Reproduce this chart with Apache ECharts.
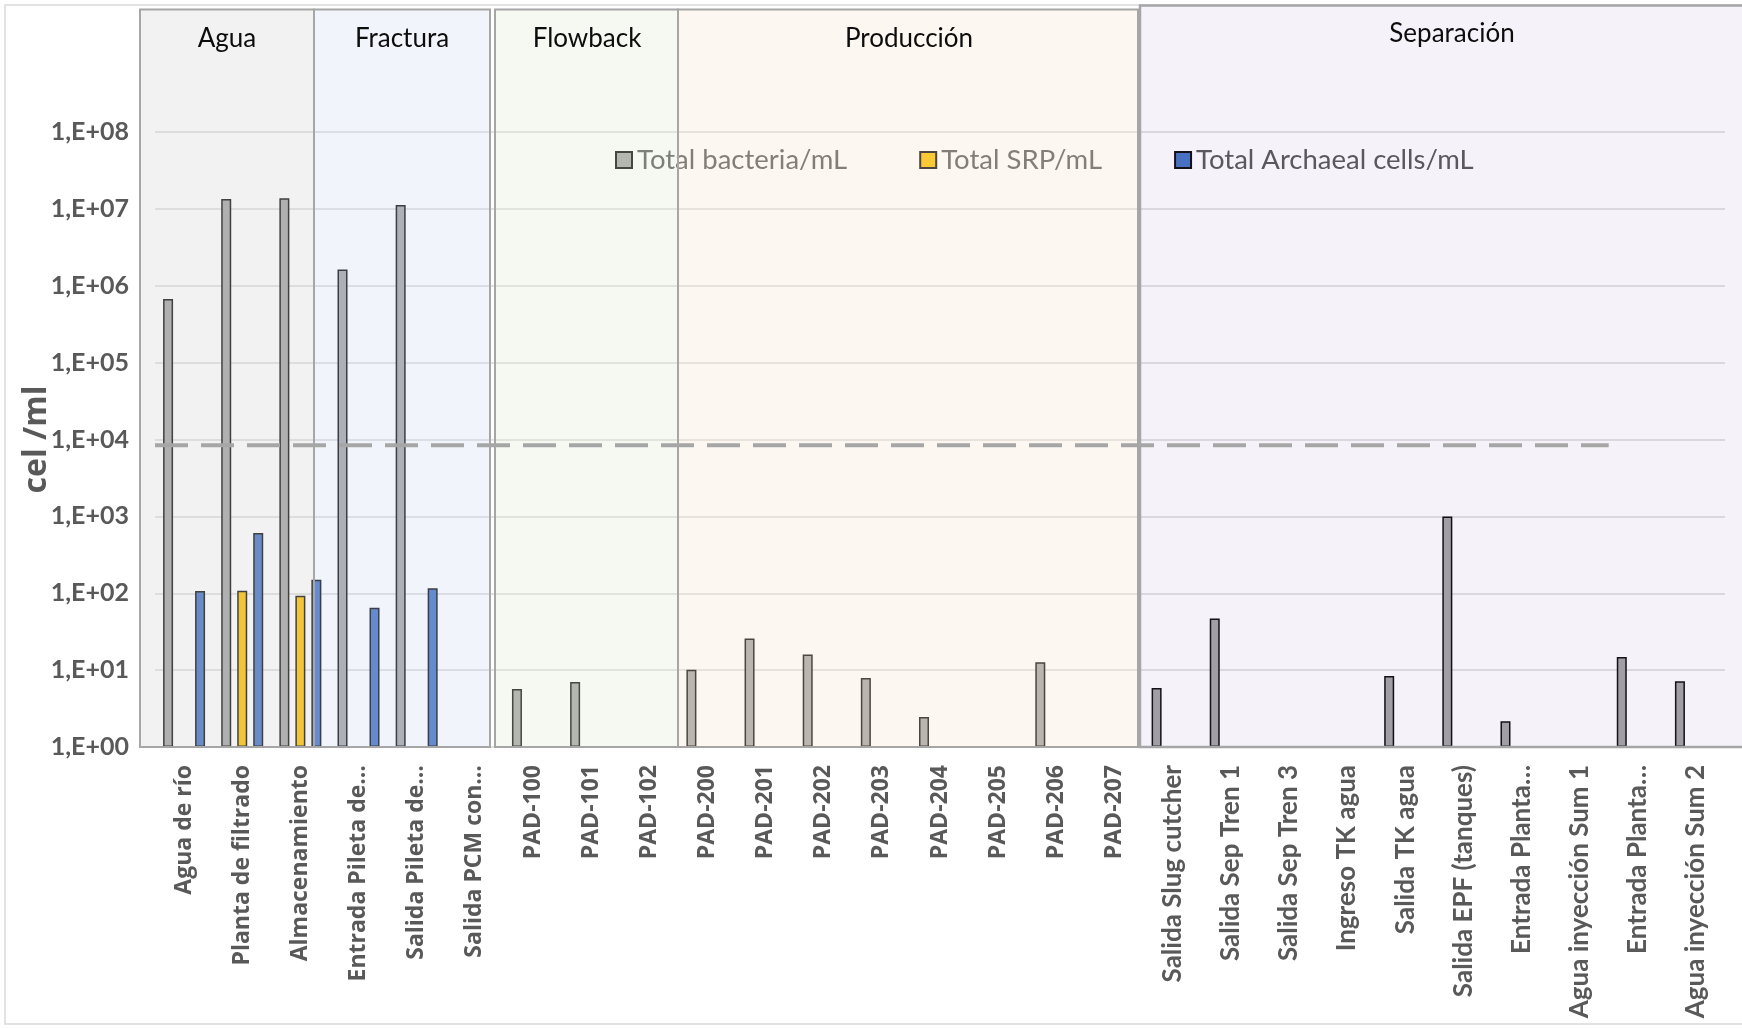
<!DOCTYPE html>
<html>
<head>
<meta charset="utf-8">
<script src="https://cdn.jsdelivr.net/npm/echarts@6/dist/echarts.min.js"></script>
<style>
  html, body { margin: 0; padding: 0; background: #ffffff; }
  #chart { width: 1742px; height: 1029px; }
</style>
</head>
<body>
<div id="chart"></div>
<script>
// Sampling points along the process line
const categories = [
  'Agua de río', 'Planta de filtrado', 'Almacenamiento', 'Entrada Pileta de…', 'Salida Pileta de…', 'Salida PCM con…',
  'PAD-100', 'PAD-101', 'PAD-102',
  'PAD-200', 'PAD-201', 'PAD-202', 'PAD-203', 'PAD-204', 'PAD-205', 'PAD-206', 'PAD-207',
  'Salida Slug cutcher', 'Salida Sep Tren 1', 'Salida Sep Tren 3', 'Ingreso TK agua', 'Salida TK agua',
  'Salida EPF (tanques)', 'Entrada Planta…', 'Agua inyección Sum 1', 'Entrada Planta…', 'Agua inyección Sum 2'
];

// Process stages and how many sampling points each one holds
const groupNames = ['Agua', 'Fractura', 'Flowback', 'Producción', 'Separación'];
const groupSizes = [3, 3, 3, 8, 10];

const seriesNames = ['Total bacteria/mL', 'Total SRP/mL', 'Total Archaeal cells/mL'];

// cells per mL (null = not detected)
const bacteria = [
  6.7e5, 1.34e7, 1.37e7, 1.63e6, 1.12e7, null,
  5.7, 7.0, null,
  10.1, 25.7, 16.0, 7.9, 2.45, null, 12.7, null,
  5.85, 47, null, null, 8.4, 1000, 2.16, null, 14.8, 7.15
];
const srp = [
  null, 108, 93, null, null, null,
  null, null, null,
  null, null, null, null, null, null, null, null,
  null, null, null, null, null, null, null, null, null, null
];
const archaea = [
  107, 606, 150, 65, 116, null,
  null, null, null,
  null, null, null, null, null, null, null, null,
  null, null, null, null, null, null, null, null, null, null
];

// Reference level drawn as a dashed line
const threshold = 8400;

const yTickLabels = ['1,E+00', '1,E+01', '1,E+02', '1,E+03', '1,E+04', '1,E+05', '1,E+06', '1,E+07', '1,E+08'];
const yTitle = 'cel /ml';

// ---------------------------------------------------------------
const chart = echarts.init(document.getElementById('chart'), null, { renderer: 'canvas' });

const seriesColors = ['#a5a5a5', '#ffc000', '#4472c4'];
const barBorder = '#0d0d0d';

// Separación labels use a narrower face than the rest
const sepStart = groupSizes.slice(0, 4).reduce((a, b) => a + b, 0);
const axisData = categories.map((c, i) => ({
  value: c,
  textStyle: i >= sepStart
    ? { fontFamily: 'Lato', fontWeight: 'bold', fontSize: 26 }
    : { fontFamily: 'Open Sans', fontWeight: 'bold', fontSize: 23 }
}));

function barSeries(name, data, color) {
  return {
    name: name,
    type: 'bar',
    data: data,
    barWidth: 10,
    barGap: '60%',
    itemStyle: { color: color, borderColor: barBorder, borderWidth: 1.5 },
    emphasis: { disabled: true },
    z: 2
  };
}

chart.setOption({
  animation: false,
  backgroundColor: '#ffffff',
  textStyle: { fontFamily: 'Lato' },
  grid: { left: 155, right: 17, top: 132, bottom: 282, containLabel: false, outerBoundsMode: 'none' },
  legend: {
    left: 610,
    top: 141,
    itemWidth: 16,
    itemHeight: 16,
    itemGap: 72,
    icon: 'rect',
    textStyle: { fontFamily: 'Lato', fontSize: 27.5, color: '#595959' },
    data: seriesNames
  },
  xAxis: {
    type: 'category',
    data: axisData,
    axisLine: { show: false },
    axisTick: { show: false },
    axisLabel: { interval: 0, rotate: 90, margin: 18, color: '#595959' },
    splitLine: { show: false }
  },
  yAxis: {
    type: 'log',
    logBase: 10,
    min: 1,
    max: 1e8,
    interval: 1,
    axisLine: { show: false },
    axisTick: { show: false },
    axisLabel: {
      margin: 26,
      color: '#595959',
      fontFamily: 'Lato',
      fontWeight: 'bold',
      fontSize: 25,
      formatter: v => yTickLabels[Math.round(Math.log10(v))]
    },
    splitLine: { lineStyle: { color: '#d9d9d9', width: 1.5 } }
  },
  series: [
    barSeries(seriesNames[0], bacteria, seriesColors[0]),
    barSeries(seriesNames[1], srp, seriesColors[1]),
    barSeries(seriesNames[2], archaea, seriesColors[2])
  ]
});

// ---------------------------------------------------------------
// Stage panels: translucent boxes laid over the plot, with a heading each
const axisBottom = chart.convertToPixel({ yAxisIndex: 0 }, 1);
const axisTop = chart.convertToPixel({ yAxisIndex: 0 }, 1e8);
const panels = [
  { x0: 140,  x1: 314,  top: 9.5, fill: 'rgba(206,206,206,0.27)', labelX: 227,  labelY: 39 },
  { x0: 314,  x1: 490,  top: 9.5, fill: 'rgba(198,212,236,0.25)', labelX: 402,  labelY: 39 },
  { x0: 495,  x1: 678,  top: 9.5, fill: 'rgba(218,233,203,0.27)', labelX: 587,  labelY: 39 },
  { x0: 678,  x1: 1138, top: 9.5, fill: 'rgba(244,225,203,0.27)', labelX: 909,  labelY: 39 },
  { x0: 1140, x1: 1800, top: 5.5, fill: 'rgba(110,85,170,0.07)',  labelX: 1452, labelY: 34 }
];

const graphics = [];

// outer frame of the chart area
graphics.push({
  type: 'rect',
  shape: { x: 5, y: 5, width: 1800, height: 1019 },
  style: { fill: 'none', stroke: '#d9d9d9', lineWidth: 1.5 },
  silent: true,
  z: 40
});

// value axis title, centred on the plot height
graphics.push({
  type: 'text',
  x: 37,
  y: (axisTop + axisBottom) / 2,
  rotation: Math.PI / 2,
  style: {
    text: yTitle,
    fontFamily: 'Open Sans',
    fontWeight: 'bold',
    fontSize: 32,
    fill: '#595959',
    align: 'center',
    verticalAlign: 'middle'
  },
  silent: true,
  z: 40
});

panels.forEach((p, i) => {
  graphics.push({
    type: 'rect',
    shape: { x: p.x0, y: p.top, width: p.x1 - p.x0, height: axisBottom - p.top },
    style: { fill: p.fill, stroke: '#a6a6a6', lineWidth: i === 4 ? 2.5 : 2 },
    silent: true,
    z: 50
  });
  graphics.push({
    type: 'text',
    x: p.labelX,
    y: p.labelY,
    style: {
      text: groupNames[i],
      fontFamily: 'Lato',
      fontSize: 26,
      fill: '#0d0d0d',
      align: 'center',
      verticalAlign: 'middle'
    },
    silent: true,
    z: 60
  });
});

// dashed reference line, from the first category edge to the start of the last one
const c0 = chart.convertToPixel({ xAxisIndex: 0, yAxisIndex: 0 }, [0, threshold]);
const c1 = chart.convertToPixel({ xAxisIndex: 0, yAxisIndex: 0 }, [1, threshold]);
const band = c1[0] - c0[0];
const cEnd = chart.convertToPixel({ xAxisIndex: 0, yAxisIndex: 0 }, [categories.length - 2, threshold]);
graphics.push({
  type: 'line',
  shape: { x1: c0[0] - band / 2, y1: c0[1], x2: cEnd[0] - band / 2, y2: c0[1] },
  style: { stroke: '#a6a6a6', lineWidth: 4, lineDash: [33, 13] },
  silent: true,
  z: 55
});

chart.setOption({ graphic: graphics });
</script>
</body>
</html>
